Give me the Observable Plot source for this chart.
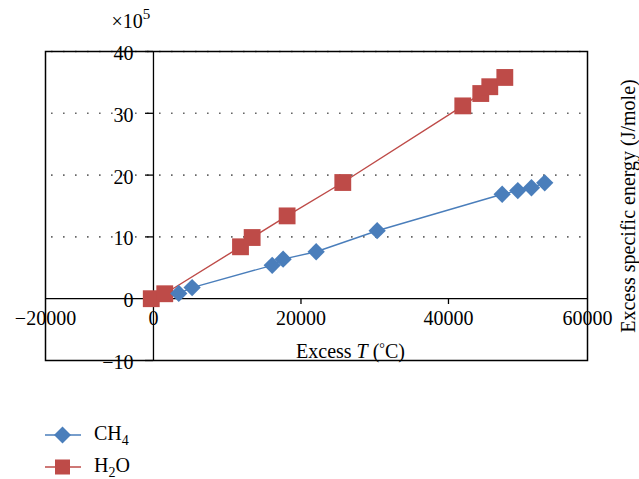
<!DOCTYPE html>
<html><head><meta charset="utf-8">
<script src="https://cdn.jsdelivr.net/npm/d3@7"></script>
<script src="https://cdn.jsdelivr.net/npm/@observablehq/plot@0.6"></script>
<style>
body{margin:0;background:#fff;font-family:"Liberation Serif",serif;}
#chart svg{display:block;}
#legend{position:relative;height:69px;width:639px;font-size:20px;color:#000;}
.item{position:absolute;left:45px;height:30px;display:flex;align-items:center;}
.item span{margin-left:13px;}
</style></head><body><div id="chart"></div><div id="legend"></div>
<script>
const seriesNames = ["CH4", "H2O"];
const seriesColors = ["#4a7ebb", "#be4b48"];
const ch4T = [3430, 5240, 16100, 17580, 22060, 30330, 47280, 49400, 51250, 53050];
const ch4E = [0.85, 1.8, 5.4, 6.4, 7.6, 11.0, 16.9, 17.5, 17.95, 18.75];
const h2oT = [-300, 1530, 11800, 13380, 18120, 25670, 41940, 44380, 45600, 47640];
const h2oE = [0, 0.8, 8.4, 9.9, 13.4, 18.8, 31.2, 33.2, 34.3, 35.8];
const xTickLabels = [-20000, 0, 20000, 40000, 60000];
const xTickMarks = [20000, 40000];
const yTicks = [-10, 0, 10, 20, 30, 40];
const yGrid = [10, 20, 30, 40];
const xTitle = "Excess T (°C)";
const yTitle = "Excess specific energy (J/mole)";
const scaleNote = "×10";

const ch4 = ch4T.map((t, i) => ({t, e: ch4E[i]}));
const h2o = h2oT.map((t, i) => ({t, e: h2oE[i]}));
const fmt = d => d < 0 ? "\u2212" + Math.abs(d) : String(d);

const chart = Plot.plot({
  width: 639, height: 410,
  marginTop: 51, marginBottom: 50, marginLeft: 45, marginRight: 52,
  style: {fontFamily: "'Liberation Serif', serif", fontSize: "20px", color: "#000", background: "#fff"},
  x: {domain: [-14640, 58850], clamp: true},
  y: {domain: [-10, 40], axis: null},
  marks: [
    Plot.ruleY(yGrid, {stroke: "#666", strokeWidth: 1.6, strokeDasharray: "1.6,10.4", strokeDashoffset: -6}),
    Plot.ruleY([0], {stroke: "#000", strokeWidth: 1.3}),
    Plot.ruleX([0], {stroke: "#000", strokeWidth: 1.3}),
    Plot.frame({stroke: "#000", strokeWidth: 1.5}),
    Plot.ruleY(yTicks, {x1: 0, x2: 0, insetLeft: -8, insetRight: 0, stroke: "#000", strokeWidth: 1.3}),
    Plot.text(yTicks, {x: 0, y: d => d, dx: -20, dy: 2, textAnchor: "end", fill: "#000", text: fmt}),
    Plot.axisX(xTickLabels, {anchor: "bottom", dy: -62, tickSize: 0, tickPadding: 12, tickFormat: fmt, label: null}),
    Plot.axisX(xTickMarks, {anchor: "bottom", dy: -62, tickSize: 6, tickFormat: () => "", label: null, strokeWidth: 1.3}),
    Plot.line(h2o, {x: "t", y: "e", stroke: seriesColors[1], strokeWidth: 1.4}),
    Plot.line(ch4, {x: "t", y: "e", stroke: seriesColors[0], strokeWidth: 1.4}),
    Plot.dot(h2o, {x: "t", y: "e", symbol: "square", r: 9.5, fill: seriesColors[1], stroke: "none"}),
    Plot.dot(ch4, {x: "t", y: "e", symbol: "square", rotate: 45, r: 6.9, fill: seriesColors[0], stroke: "none"}),
    Plot.text([xTitle], {frameAnchor: "bottom", dx: 34, dy: -9, textAnchor: "middle", lineAnchor: "middle", text: d => d}),
    Plot.text([yTitle], {frameAnchor: "right", dx: 41, rotate: -90, textAnchor: "middle", lineAnchor: "middle", text: d => d}),
    Plot.text([scaleNote], {frameAnchor: "top-left", dx: 66, dy: -30, textAnchor: "start", lineAnchor: "middle", text: d => d})
  ]
});
document.getElementById("chart").append(chart);

// rich-text touch-ups
d3.select(chart).selectAll("text").each(function() {
  const t = d3.select(this);
  const s = this.textContent;
  if (s === xTitle) {
    t.text(null);
    t.append("tspan").text("Excess ");
    t.append("tspan").attr("font-style", "italic").text("T");
    t.append("tspan").text(" (");
    t.append("tspan").attr("font-size", "14px").attr("dy", "-5").text("°");
    t.append("tspan").attr("dy", "5").text("C)");
  } else if (s === scaleNote) {
    t.append("tspan").attr("font-size", "15px").attr("dy", "-9").text("5");
  }
});

// legend
const legend = d3.select("#legend");
const items = [{name: ["CH", "4"], sym: "diamond"}, {name: ["H", "2", "O"], sym: "square"}];
items.forEach((it, i) => {
  const row = legend.append("div").attr("class", "item").style("top", (10 + i * 32) + "px");
  const svg = row.append("svg").attr("width", 36).attr("height", 30);
  svg.append("line").attr("x1", 0).attr("x2", 36).attr("y1", 15).attr("y2", 15)
    .attr("stroke", seriesColors[i]).attr("stroke-width", 1.4);
  if (it.sym === "diamond") {
    svg.append("rect").attr("x", -6).attr("y", -6).attr("width", 12).attr("height", 12)
      .attr("fill", seriesColors[i]).attr("transform", "translate(17.5,15) rotate(45)");
  } else {
    svg.append("rect").attr("x", 10).attr("y", 7.5).attr("width", 15).attr("height", 15).attr("fill", seriesColors[i]);
  }
  const lab = row.append("span");
  lab.append("tspan").text(it.name[0]);
  lab.append("sub").style("font-size", "14px").text(it.name[1]);
  if (it.name[2]) lab.append("tspan").text(it.name[2]);
});
</script></body></html>
